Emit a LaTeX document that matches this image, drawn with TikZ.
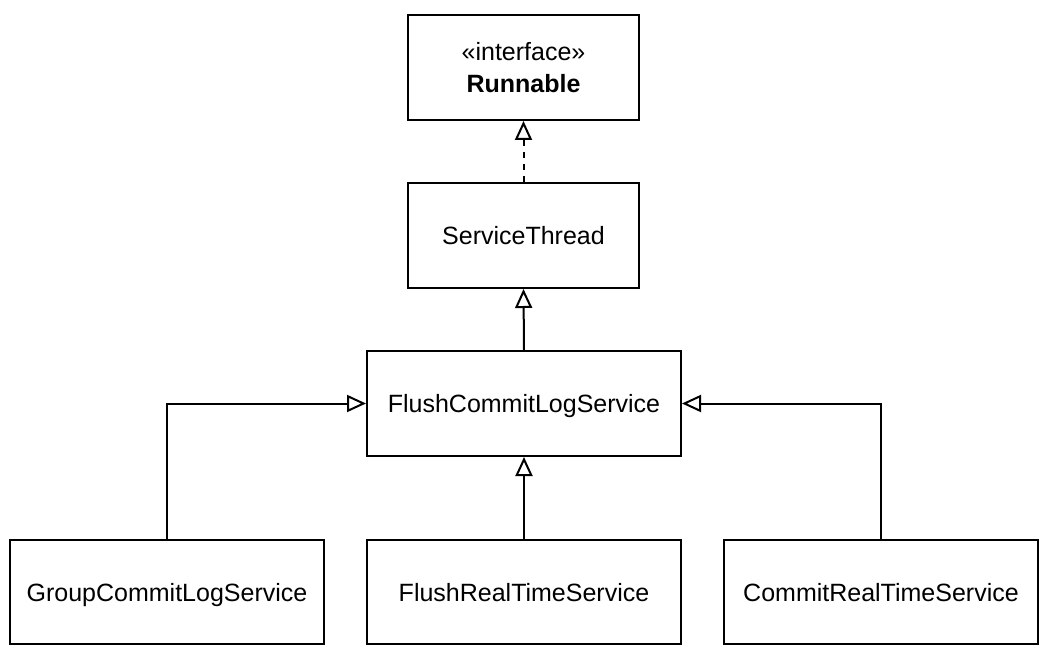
\documentclass[tikz,border=0pt]{standalone}
\usepackage{fontspec}
\setmainfont{Liberation Sans}
\usetikzlibrary{arrows.meta}
\begin{document}
\begin{tikzpicture}[x=0.5pt,y=-0.5pt,
  cls/.style={draw, line width=1pt, fill=white, inner sep=0pt, align=center,
    font=\fontsize{12.5}{16}\selectfont},
  one/.style={cls, text height=9pt, text depth=0pt},
  inherit/.style={line width=1pt, -{Triangle[open, length=9.5pt, width=8.5pt, fill=white]}},
  realize/.style={inherit, dash pattern=on 3pt off 3pt}]
\useasboundingbox (0,0) rectangle (1051,658);
\node[cls, minimum width=115.5pt, minimum height=52.5pt] (run) at (523.5,67.5)
  {«interface»\\[0pt]\textbf{Runnable}};
\node[one, minimum width=115.5pt, minimum height=52.5pt] (st) at (523.5,235.5) {ServiceThread};
\node[one, minimum width=157pt, minimum height=52.5pt] (fcl) at (524,403.5) {FlushCommitLogService};
\node[one, minimum width=157pt, minimum height=52pt] (gcl) at (167,592) {GroupCommitLogService};
\node[one, minimum width=157pt, minimum height=52pt] (frt) at (524,592) {FlushRealTimeService};
\node[one, minimum width=157pt, minimum height=52pt] (crt) at (881,592) {CommitRealTimeService};
\draw[realize] (st.north) -- (run.south);
\draw[inherit] (fcl.north) -- (st.south);
\draw[inherit] (frt.north) -- (fcl.south);
\draw[inherit] (gcl.north) |- (fcl.west);
\draw[inherit] (crt.north) |- (fcl.east);
\end{tikzpicture}
\end{document}
